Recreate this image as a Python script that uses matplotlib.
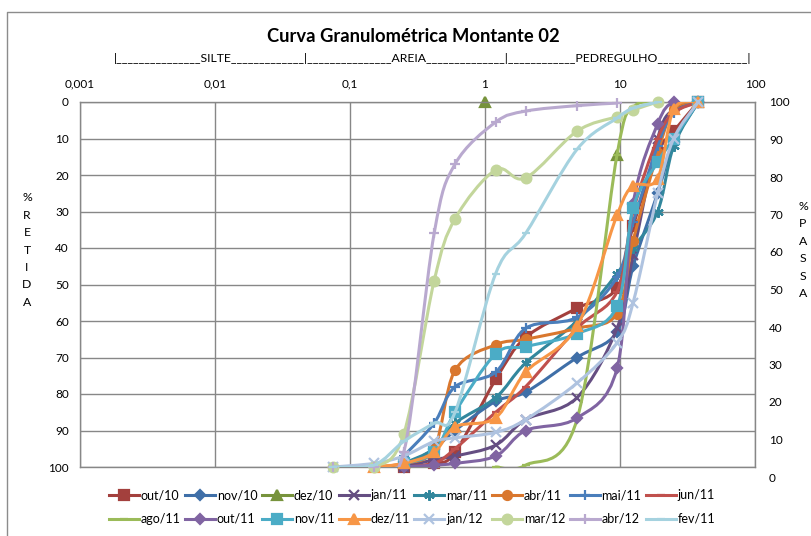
import numpy as np
import matplotlib
matplotlib.use("Agg")
import matplotlib.pyplot as plt
from matplotlib.path import Path
from matplotlib.patches import PathPatch
from matplotlib.lines import Line2D
from matplotlib.ticker import FixedLocator, FuncFormatter, NullLocator

plt.rcParams['font.family'] = ['Lato', 'DejaVu Sans']

nan = np.nan

# sieve openings (mm)
sieves = [0.075, 0.15, 0.25, 0.42, 0.6, 1.2, 2.0, 4.8, 9.5, 12.5, 19, 25, 38]

# % retida per campaign (nan = no reading)
out_10 = [nan, nan, 100, 99, 96, 76, 64.5, 56.5, 51, 34, 14, 8, 0]
nov_10 = [nan, nan, 100, 95, 90, 82, 79.5, 70, 63, 45, 25, 11, 0]
dez_10_x = [1.0, nan, 9.5]
dez_10 = [0, nan, 14.5]
jan_11 = [nan, nan, 100, 98, 97, 94, 87, 81, 62, 42, 10, 2, 0]
mar_11 = [nan, nan, 99, 95, 88, 81, 71.5, 60, 47, 40, 30, 12, 0]
abr_11 = [nan, 100, 99, 95, 73.5, 66.5, 65, 62, 58, 38, 14, 2, 0]
mai_11 = [nan, nan, 97, 88, 78, 74, 62, 59, 48, 33, 12, 3, 0]
jun_11 = [nan, nan, 100, 99, 95, 85, 78, 62, 52, 30, 10, 3, 0]
ago_11 = [nan, nan, nan, nan, nan, 100, 99.5, 87, 14.5, 1.5, 0, nan, nan]
out_11 = [nan, nan, 100, 99.5, 99, 97, 90, 86.6, 73, 28, 6, 0, 0]
nov_11 = [nan, nan, 99, 96, 85, 69, 67, 63.5, 56, 29, 16.5, 10, 0]
dez_11 = [nan, 100, 99, 96, 89, 86.5, 74, 61.5, 31, 23, 21, 2, 0]
jan_12 = [100, 99, 97, 93, 92, 90.5, 87, 77, 66, 55, 25, 10, 0]
mar_12 = [100, 100, 91, 49, 32, 18.6, 20.8, 8, 4, 2.2, 0, nan, nan]
abr_12 = [100, 100, 96, 36, 17, 5.5, 2.5, 1, 0.3, nan, nan, nan, nan]
fev_11 = [100, 99.5, 93, 88, 85, 47, 36, 13, 4.4, 1.7, 0, nan, nan]

names = ["out/10", "nov/10", "dez/10", "jan/11", "mar/11", "abr/11", "mai/11", "jun/11",
         "ago/11", "out/11", "nov/11", "dez/11", "jan/12", "mar/12", "abr/12", "fev/11"]
series_y = [out_10, nov_10, dez_10, jan_11, mar_11, abr_11, mai_11, jun_11,
            ago_11, out_11, nov_11, dez_11, jan_12, mar_12, abr_12, fev_11]
series_x = [sieves, sieves, dez_10_x] + [sieves] * 13

colors = ["#A3403D", "#3F6FA8", "#77933C", "#654E82", "#32879D", "#D9772E", "#4A7EBB", "#C0504D",
          "#9BBB59", "#8064A2", "#4BACC6", "#F79646", "#AFC3E0", "#C3D69B", "#B9A9CF", "#A5D2DF"]
markers = ["s", "D", "^", "x", (6, 2, 0), "o", "+", "_",
           "_", "D", "s", "^", "x", "o", "+", "_"]
msizes = [6.5, 5.5, 7, 6.5, 7.5, 6.5, 7.5, 6, 6, 5.5, 6.5, 7, 6.5, 7, 7.5, 6]

zone_line = "|" + "_" * 15 + "SILTE" + "_" * 13 + "|" + "_" * 15 + "AREIA" + "_" * 14 + \
            "|" + "_" * 12 + "PEDREGULHO" + "_" * 16 + "|"

grid_c = "#878787"


def smooth_path(xs, ys):
    # Excel-like smoothed line: Catmull-Rom -> cubic Bezier in (log x, y)
    pts = np.column_stack([np.log10(xs), ys])
    n = len(pts)
    verts = [pts[0]]
    codes = [Path.MOVETO]
    for i in range(n - 1):
        p0 = pts[i - 1] if i > 0 else pts[i]
        p1, p2 = pts[i], pts[i + 1]
        p3 = pts[i + 2] if i + 2 < n else pts[i + 1]
        verts += [p1 + (p2 - p0) / 6, p2 - (p3 - p1) / 6, p2]
        codes += [Path.CURVE4] * 3
    verts = np.array(verts)
    verts[:, 0] = 10 ** verts[:, 0]
    return Path(verts, codes)


def segments(xs, ys):
    xs = np.asarray(xs, float)
    ys = np.asarray(ys, float)
    ok = ~(np.isnan(xs) | np.isnan(ys))
    segs, cur = [], []
    for i in range(len(xs)):
        if ok[i]:
            cur.append(i)
        elif cur:
            segs.append(cur)
            cur = []
    if cur:
        segs.append(cur)
    return [(xs[s], ys[s]) for s in segs]


fig = plt.figure(figsize=(8.12, 5.36), dpi=100)
ax = fig.add_axes([80 / 812, 69 / 536, 675 / 812, 365 / 536])
ax.set_xscale("log")
ax.set_xlim(0.001, 100)
ax.set_ylim(100, 0)

ax.xaxis.tick_top()
ax.xaxis.set_major_locator(FixedLocator([0.001, 0.01, 0.1, 1, 10, 100]))
ax.xaxis.set_minor_locator(NullLocator())
ax.xaxis.set_major_formatter(FuncFormatter(lambda v, _: f"{v:g}".replace(".", ",")))
ax.set_yticks(range(0, 101, 10))
ax.tick_params(axis="both", length=0, labelsize=8.5, colors="#000000")
ax.tick_params(axis="x", pad=9)
ax.tick_params(axis="y", pad=8)
ax.grid(True, color=grid_c, lw=1)
ax.set_axisbelow(True)
for s in ax.spines.values():
    s.set_color(grid_c)
    s.set_linewidth(1)

handles = []
for k, name in enumerate(names):
    c = colors[k]
    mk = dict(marker=markers[k], ms=msizes[k], mfc=c, mec=c, mew=1.6)
    for sx, sy in segments(series_x[k], series_y[k]):
        if len(sx) > 1:
            ax.add_patch(PathPatch(smooth_path(sx, sy), fill=False, edgecolor=c, lw=2.2,
                                   zorder=2 + k * 0.1, capstyle="round", joinstyle="round"))
        ax.plot(sx, sy, linestyle="none", zorder=2.05 + k * 0.1, clip_on=False, **mk)
    handles.append(Line2D([], [], color=c, lw=2.2, **mk))

# right axis (% passa)
ax2 = fig.add_axes([80 / 812, 59 / 536, 675 / 812, 375 / 536])
ax2.set_ylim(0, 100)
ax2.set_yticks(range(0, 101, 10))
ax2.yaxis.tick_right()
ax2.tick_params(axis="y", length=0, labelsize=8.5, pad=10)
ax2.xaxis.set_visible(False)
ax2.patch.set_visible(False)
for s in ax2.spines.values():
    s.set_visible(False)

fig.text(413 / 812, 1 - 36 / 536, "Curva Granulométrica Montante 02", ha="center", va="center",
         fontsize=13.2, fontweight="bold")
fig.text(433 / 812, 1 - 58 / 536, zone_line, ha="center", va="center", fontsize=8.8)
fig.text(27 / 812, 1 - 250 / 536, "%\nR\nE\nT\nI\nD\nA", ha="center", va="center",
         fontsize=8.8, linespacing=1.72)
fig.text(803 / 812, 1 - 250 / 536, "%\nP\nA\nS\nS\nA", ha="center", va="center",
         fontsize=8.8, linespacing=1.72)

# outer chart frame (only top and left edges visible)
fig.add_artist(Line2D([7 / 812, 7 / 812, 1], [0, 1 - 12 / 536, 1 - 12 / 536],
                      transform=fig.transFigure, color="#8C8C8C", lw=1))

# Excel fills legend rows first; matplotlib fills columns, so interleave
order = []
for i in range(8):
    order += [i, i + 8]
fig.legend([handles[i] for i in order], [names[i] for i in order], loc="center",
           bbox_to_anchor=(412 / 812, 1 - 507 / 536), ncol=8, frameon=False, fontsize=9,
           handlelength=2.4, handletextpad=0.15, columnspacing=0.35, labelspacing=0.95,
           borderpad=0)

fig.savefig("out.png", dpi=100)
